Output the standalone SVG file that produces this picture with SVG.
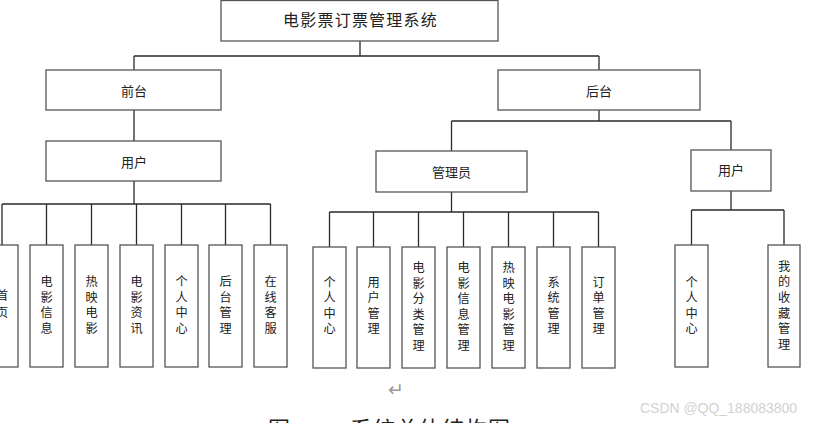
<svg xmlns="http://www.w3.org/2000/svg" width="824" height="423" viewBox="0 0 824 423">
<style>
.box{fill:#fff;stroke:#555;stroke-width:1.3}
.ln{fill:none;stroke:#2a2a2a;stroke-width:1.3}
.t{font-family:"Noto Sans CJK SC","Liberation Sans",sans-serif;font-size:13px;fill:#222;text-anchor:middle}
.v{font-family:"Noto Sans CJK SC","Liberation Sans",sans-serif;font-size:12.2px;fill:#222;text-anchor:middle}
.ti{font-family:"Noto Sans CJK SC","Liberation Sans",sans-serif;font-size:16px;fill:#222;text-anchor:middle;letter-spacing:1.2px}
.cap{font-family:"Noto Sans CJK SC","Liberation Sans",sans-serif;font-size:22px;fill:#222}
</style>
<rect width="824" height="423" fill="#fff"/>

<g id="connectors">
<path class="ln" d="M360,41V56M134,56H599M134,56V70M599,56V70"/>
<path class="ln" d="M134,110V141M134,181V204M2,204H270.5M2,204V245M46.5,204V245M91.5,204V245M136.5,204V245M181.5,204V245M225.5,204V245M270.5,204V245"/>
<path class="ln" d="M599,110V121M451.5,121H731M451.5,121V151M731,121V150"/>
<path class="ln" d="M451.5,192V212M329.5,212H598.5M329.5,212V247M373.5,212V247M418.5,212V247M463.5,212V247M508.5,212V247M553.5,212V247M598.5,212V247"/>
<path class="ln" d="M731,191V210M691.5,210H784M691.5,210V245M784,210V245"/>
</g>

<g id="root"><rect class="box" x="221" y="0.5" width="277" height="40.5"/><text class="ti" x="360.5" y="26">电影票订票管理系统</text></g>
<g id="front"><rect class="box" x="46" y="70" width="175" height="40"/><text class="t" x="134" y="96">前台</text></g>
<g id="front-user"><rect class="box" x="46" y="141" width="175" height="40"/><text class="t" x="134" y="167">用户</text></g>
<g id="back"><rect class="box" x="498" y="70" width="202" height="40"/><text class="t" x="599" y="96">后台</text></g>
<g id="admin"><rect class="box" x="376" y="151" width="151" height="41"/><text class="t" x="451.5" y="176.5">管理员</text></g>
<g id="back-user"><rect class="box" x="691" y="150" width="80" height="41"/><text class="t" x="731" y="174.5">用户</text></g>

<g id="f-home"><rect class="box" x="-14" y="245" width="32" height="122"/><text class="v"><tspan x="2" y="300">首</tspan><tspan x="2" y="316.5">页</tspan></text></g>
<g id="f-movieinfo"><rect class="box" x="30" y="245" width="33" height="122"/><text class="v"><tspan x="46.5" y="286">电</tspan><tspan x="46.5" y="301.5">影</tspan><tspan x="46.5" y="317">信</tspan><tspan x="46.5" y="332.5">息</tspan></text></g>
<g id="f-hot"><rect class="box" x="75" y="245" width="33" height="122"/><text class="v"><tspan x="91.5" y="286">热</tspan><tspan x="91.5" y="301.5">映</tspan><tspan x="91.5" y="317">电</tspan><tspan x="91.5" y="332.5">影</tspan></text></g>
<g id="f-news"><rect class="box" x="120" y="245" width="33" height="122"/><text class="v"><tspan x="136.5" y="286">电</tspan><tspan x="136.5" y="301.5">影</tspan><tspan x="136.5" y="317">资</tspan><tspan x="136.5" y="332.5">讯</tspan></text></g>
<g id="f-center"><rect class="box" x="165" y="245" width="33" height="122"/><text class="v"><tspan x="181.5" y="286">个</tspan><tspan x="181.5" y="301.5">人</tspan><tspan x="181.5" y="317">中</tspan><tspan x="181.5" y="332.5">心</tspan></text></g>
<g id="f-backend"><rect class="box" x="209" y="245" width="33" height="122"/><text class="v"><tspan x="225.5" y="286">后</tspan><tspan x="225.5" y="301.5">台</tspan><tspan x="225.5" y="317">管</tspan><tspan x="225.5" y="332.5">理</tspan></text></g>
<g id="f-service"><rect class="box" x="254" y="245" width="33" height="122"/><text class="v"><tspan x="270.5" y="286">在</tspan><tspan x="270.5" y="301.5">线</tspan><tspan x="270.5" y="317">客</tspan><tspan x="270.5" y="332.5">服</tspan></text></g>

<g id="a-center"><rect class="box" x="313" y="247" width="33" height="121"/><text class="v"><tspan x="329.5" y="286.5">个</tspan><tspan x="329.5" y="302">人</tspan><tspan x="329.5" y="317.5">中</tspan><tspan x="329.5" y="333">心</tspan></text></g>
<g id="a-user"><rect class="box" x="357" y="247" width="33" height="121"/><text class="v"><tspan x="373.5" y="286.5">用</tspan><tspan x="373.5" y="302">户</tspan><tspan x="373.5" y="317.5">管</tspan><tspan x="373.5" y="333">理</tspan></text></g>
<g id="a-category"><rect class="box" x="402" y="247" width="33" height="121"/><text class="v"><tspan x="418.5" y="272">电</tspan><tspan x="418.5" y="288">影</tspan><tspan x="418.5" y="303">分</tspan><tspan x="418.5" y="319">类</tspan><tspan x="418.5" y="334">管</tspan><tspan x="418.5" y="350">理</tspan></text></g>
<g id="a-movieinfo"><rect class="box" x="447" y="247" width="33" height="121"/><text class="v"><tspan x="463.5" y="272">电</tspan><tspan x="463.5" y="288">影</tspan><tspan x="463.5" y="303">信</tspan><tspan x="463.5" y="319">息</tspan><tspan x="463.5" y="334">管</tspan><tspan x="463.5" y="350">理</tspan></text></g>
<g id="a-hot"><rect class="box" x="492" y="247" width="33" height="121"/><text class="v"><tspan x="508.5" y="272">热</tspan><tspan x="508.5" y="288">映</tspan><tspan x="508.5" y="303">电</tspan><tspan x="508.5" y="319">影</tspan><tspan x="508.5" y="334">管</tspan><tspan x="508.5" y="350">理</tspan></text></g>
<g id="a-system"><rect class="box" x="537" y="247" width="33" height="121"/><text class="v"><tspan x="553.5" y="286.5">系</tspan><tspan x="553.5" y="302">统</tspan><tspan x="553.5" y="317.5">管</tspan><tspan x="553.5" y="333">理</tspan></text></g>
<g id="a-order"><rect class="box" x="582" y="247" width="33" height="121"/><text class="v"><tspan x="598.5" y="286.5">订</tspan><tspan x="598.5" y="302">单</tspan><tspan x="598.5" y="317.5">管</tspan><tspan x="598.5" y="333">理</tspan></text></g>

<g id="u-center"><rect class="box" x="675" y="245" width="33" height="122"/><text class="v"><tspan x="691.5" y="286.5">个</tspan><tspan x="691.5" y="302">人</tspan><tspan x="691.5" y="317.5">中</tspan><tspan x="691.5" y="333">心</tspan></text></g>
<g id="u-fav"><rect class="box" x="768" y="245" width="32" height="122"/><text class="v"><tspan x="784" y="270.5">我</tspan><tspan x="784" y="286">的</tspan><tspan x="784" y="301.5">收</tspan><tspan x="784" y="317.5">藏</tspan><tspan x="784" y="333">管</tspan><tspan x="784" y="349">理</tspan></text></g>

<text x="396" y="396" font-family="DejaVu Sans,sans-serif" font-size="19" fill="#9a9a9a" text-anchor="middle">↵</text>
<text class="cap" x="268" y="437">图</text>
<text class="cap" x="350" y="437" letter-spacing="1">系统总体结构图</text>
<text x="640" y="413" font-family="Liberation Sans,sans-serif" font-size="14" fill="#d2d2d2" textLength="157" lengthAdjust="spacingAndGlyphs">CSDN @QQ_188083800</text>
</svg>
